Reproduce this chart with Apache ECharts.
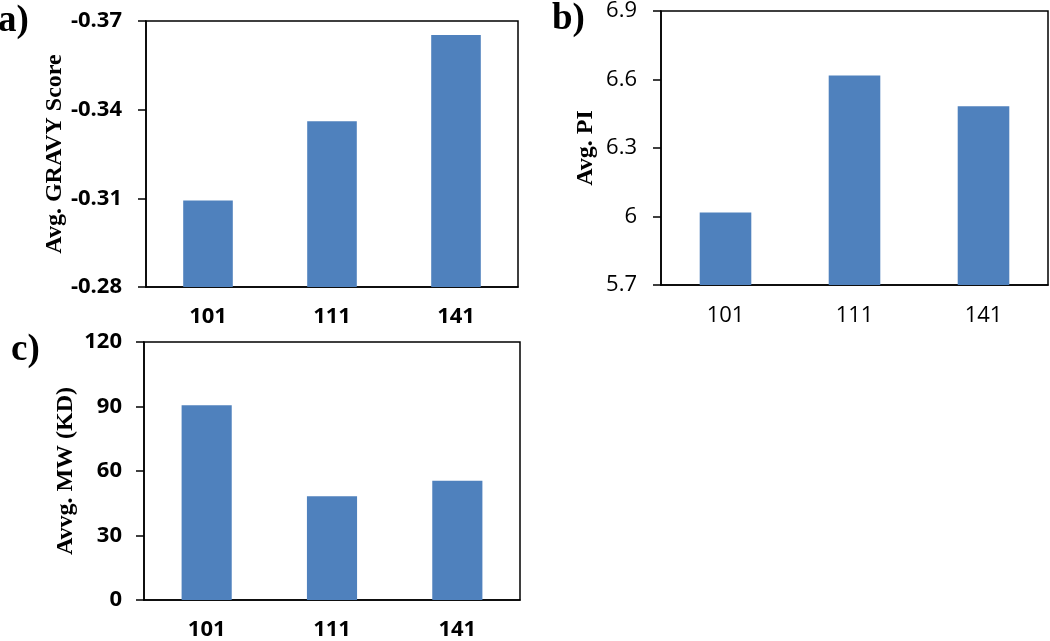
<!DOCTYPE html>
<html>
<head>
<meta charset="utf-8">
<script src="https://cdn.jsdelivr.net/npm/echarts@6/dist/echarts.min.js"></script>
<style>
html,body{margin:0;padding:0;background:#fff;}
#c{width:1050px;height:641px;}
</style>
</head>
<body>
<div id="c"></div>
<script>
const categories = ['101', '111', '141'];
const gravyValues = [-0.3093, -0.3361, -0.3653];
const piValues = [6.017, 6.617, 6.483];
const mwValues = [90.6, 48.3, 55.5];
const panelLabels = ['a)', 'b)', 'c)'];
const yNames = ['Avg. GRAVY Score', 'Avg. PI', 'Avvg. MW (KD)'];

const BAR = '#4F81BD';
const sans = 'Open Sans';
const serif = 'Liberation Serif';
const FS = 22;

function xAxisCfg(gi, bold, inside, margin) {
  return {
    type: 'category', gridIndex: gi, data: categories,
    axisLine: { onZero: false, lineStyle: { color: '#000', width: 1.5 } },
    axisTick: { inside: inside, length: 7, lineStyle: { color: '#000', width: 1.5 } },
    axisLabel: { color: '#000', fontFamily: sans, fontSize: FS, fontWeight: bold ? 'bold' : 'normal', margin: margin },
    splitLine: { show: false }
  };
}
function yAxisCfg(gi, opts) {
  return Object.assign({
    type: 'value', gridIndex: gi,
    nameLocation: 'middle', nameRotate: 90,
    nameTextStyle: { color: '#000', fontFamily: serif, fontWeight: 'bold', fontSize: 24 },
    axisLine: { show: true, lineStyle: { color: '#000', width: 1.5 } },
    axisTick: { show: true, length: 8, lineStyle: { color: '#000', width: 1.5 } },
    splitLine: { show: false }
  }, opts);
}

const option = {
  animation: false,
  backgroundColor: '#fff',
  grid: [
    { left: 146, top: 21, width: 372, height: 266, show: true, borderColor: '#000', borderWidth: 1.5 },
    { left: 661, top: 8, width: 387, height: 277, show: true, borderColor: '#000', borderWidth: 1.5 },
    { left: 144, top: 342, width: 376, height: 261, show: true, borderColor: '#000', borderWidth: 1.5 }
  ],
  xAxis: [
    xAxisCfg(0, true, true, 19),
    xAxisCfg(1, false, false, 20),
    xAxisCfg(2, true, false, 19)
  ],
  yAxis: [
    yAxisCfg(0, {
      name: yNames[0], nameGap: 76, inverse: true, min: -0.37, max: -0.28, interval: 0.03,
      axisLabel: { color: '#000', fontFamily: sans, fontSize: FS, fontWeight: 'bold', margin: 24,
        formatter: v => v.toFixed(2) }
    }),
    yAxisCfg(1, {
      name: yNames[1], nameGap: 63, min: 5.7, max: 6.9, interval: 0.3,
      axisLabel: { color: '#000', fontFamily: sans, fontSize: FS, fontWeight: 'normal', margin: 24,
        formatter: v => (Math.round(v * 10) / 10).toString() }
    }),
    yAxisCfg(2, {
      name: yNames[2], nameGap: 66, min: 0, max: 120, interval: 30,
      axisLabel: { color: '#000', fontFamily: sans, fontSize: FS, fontWeight: 'bold', margin: 22 }
    })
  ],
  series: [
    { type: 'bar', xAxisIndex: 0, yAxisIndex: 0, data: gravyValues, barWidth: '40%', clip: true, itemStyle: { color: BAR } },
    { type: 'bar', xAxisIndex: 1, yAxisIndex: 1, data: piValues, barWidth: '40%', clip: true, itemStyle: { color: BAR } },
    { type: 'bar', xAxisIndex: 2, yAxisIndex: 2, data: mwValues, barWidth: '40%', clip: true, itemStyle: { color: BAR } }
  ],
  graphic: [
    { type: 'text', left: -2, top: 3, style: { text: panelLabels[0], font: 'bold 37px "Liberation Serif"', fill: '#000' } },
    { type: 'text', left: 552, top: 1, style: { text: panelLabels[1], font: 'bold 37px "Liberation Serif"', fill: '#000' } },
    { type: 'text', left: 11, top: 332, style: { text: panelLabels[2], font: 'bold 37px "Liberation Serif"', fill: '#000' } }
  ]
};

const chart = echarts.init(document.getElementById('c'));
chart.setOption(option);
</script>
</body>
</html>
